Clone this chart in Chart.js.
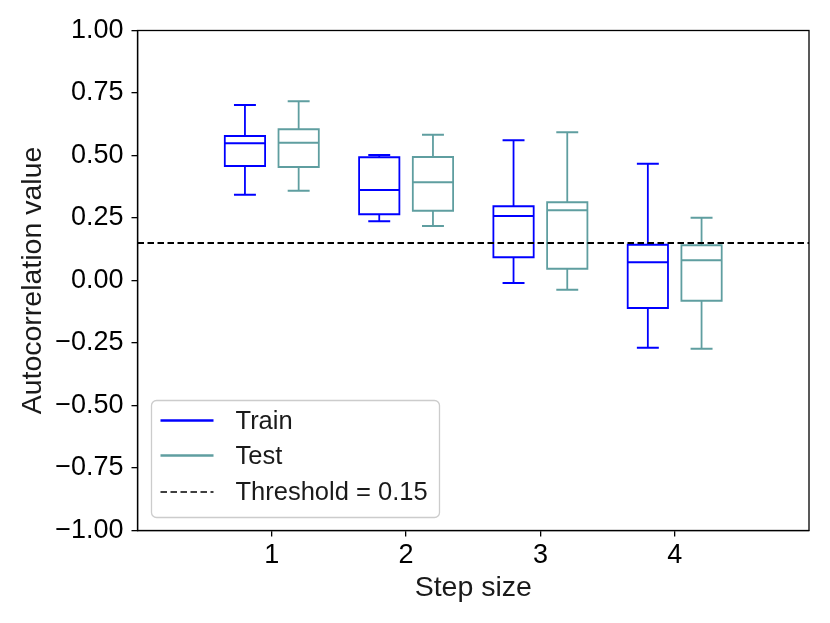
<!DOCTYPE html>
<html><head><meta charset="utf-8">
<script src="https://cdn.jsdelivr.net/npm/chart.js@4.4.0/dist/chart.umd.min.js"></script>
<style>html,body{margin:0;padding:0;background:#fff;} #wrap{width:830px;height:623px;position:relative;}</style>
</head><body><div id="wrap"><canvas id="c"></canvas></div>
<script>
// ---- data ----
const steps = [1, 2, 3, 4];
const trainMin = [0.343, 0.237, -0.010, -0.269];
const trainQ1  = [0.458, 0.265, 0.093, -0.110];
const trainMed = [0.549, 0.362, 0.258, 0.073];
const trainQ3  = [0.578, 0.493, 0.297, 0.143];
const trainMax = [0.702, 0.502, 0.561, 0.467];
const testMin  = [0.359, 0.218, -0.037, -0.273];
const testQ1   = [0.454, 0.279, 0.047, -0.081];
const testMed  = [0.551, 0.393, 0.281, 0.081];
const testQ3   = [0.605, 0.494, 0.313, 0.141];
const testMax  = [0.717, 0.583, 0.593, 0.251];
const threshold = 0.15;
const yTicks = [-1, -0.75, -0.5, -0.25, 0, 0.25, 0.5, 0.75, 1];
const seriesNames = ['Train', 'Test'];

// ---- styling / geometry (not data) ----
const BOX_W = 0.3, CAP_W = 0.15, OFFSET = 0.2;
const TRAIN_COLOR = '#0000ff', TEST_COLOR = '#5f9ea0';
const FONT = 'Liberation Sans, Arial, sans-serif';

function boxPath(mins, q1s, meds, q3s, maxs, off) {
  const pts = [];
  const gap = (x) => pts.push({x: x, y: null});
  steps.forEach((s, i) => {
    const x = s + off, hw = BOX_W / 2, cw = CAP_W / 2;
    pts.push({x: x - hw, y: q1s[i]}, {x: x + hw, y: q1s[i]}, {x: x + hw, y: q3s[i]}, {x: x - hw, y: q3s[i]}, {x: x - hw, y: q1s[i]});
    gap(x);
    pts.push({x: x - hw, y: meds[i]}, {x: x + hw, y: meds[i]}); gap(x);
    pts.push({x: x, y: q3s[i]}, {x: x, y: maxs[i]}); gap(x);
    pts.push({x: x - cw, y: maxs[i]}, {x: x + cw, y: maxs[i]}); gap(x);
    pts.push({x: x, y: q1s[i]}, {x: x, y: mins[i]}); gap(x);
    pts.push({x: x - cw, y: mins[i]}, {x: x + cw, y: mins[i]}); gap(x);
  });
  return pts;
}

const fmt = (v) => { const s = Math.abs(v).toFixed(2); return v < -1e-9 ? '\u2212' + s : s; };

const framePlugin = {
  id: 'frame',
  afterDatasetsDraw(chart) {
    const {ctx, chartArea: a} = chart;
    ctx.save();
    ctx.strokeStyle = '#000'; ctx.lineWidth = 1.3;
    ctx.strokeRect(a.left, a.top, a.right - a.left, a.bottom - a.top);
    ctx.restore();
  }
};

const legendPlugin = {
  id: 'boxLegend',
  afterDraw(chart) {
    const {ctx, chartArea: a} = chart;
    const ds = chart.data.datasets;
    const left = a.left + 14, bottom = a.bottom - 13, w = 288, h = 117;
    const top = bottom - h;
    ctx.save();
    ctx.fillStyle = 'rgba(255,255,255,0.8)';
    ctx.strokeStyle = '#cccccc'; ctx.lineWidth = 1.3;
    const r = 5;
    ctx.beginPath();
    ctx.moveTo(left + r, top);
    ctx.arcTo(left + w, top, left + w, top + h, r);
    ctx.arcTo(left + w, top + h, left, top + h, r);
    ctx.arcTo(left, top + h, left, top, r);
    ctx.arcTo(left, top, left + w, top, r);
    ctx.closePath(); ctx.fill(); ctx.stroke();
    const rows = [20, 55, 91.5];
    ds.forEach((d, i) => {
      const y = top + rows[i];
      ctx.beginPath();
      ctx.strokeStyle = d.borderColor; ctx.lineWidth = d.legendWidth;
      ctx.setLineDash(d.borderDash || []);
      ctx.moveTo(left + 9, y); ctx.lineTo(left + 62, y); ctx.stroke();
      ctx.setLineDash([]);
      ctx.fillStyle = '#1a1a1a'; ctx.font = '25.5px ' + FONT;
      ctx.textBaseline = 'middle'; ctx.textAlign = 'left';
      ctx.fillText(d.label, left + 84, y + 1);
    });
    ctx.restore();
  }
};

const common = {showLine: true, pointRadius: 0, pointHoverRadius: 0, borderWidth: 1.8, borderCapStyle: 'square', borderJoinStyle: 'miter', spanGaps: false, fill: false, tension: 0};

new Chart(document.getElementById('c'), {
  type: 'scatter',
  data: {
    datasets: [
      Object.assign({}, common, {label: seriesNames[0], data: boxPath(trainMin, trainQ1, trainMed, trainQ3, trainMax, -OFFSET), borderColor: TRAIN_COLOR, order: 2, legendWidth: 2.5}),
      Object.assign({}, common, {label: seriesNames[1], data: boxPath(testMin, testQ1, testMed, testQ3, testMax, OFFSET), borderColor: TEST_COLOR, order: 1, legendWidth: 2.5}),
      Object.assign({}, common, {label: 'Threshold = ' + threshold, data: [{x: 0, y: threshold}, {x: 5, y: threshold}], borderColor: '#000', borderDash: [6.5, 3.5], borderCapStyle: 'butt', borderWidth: 1.8, order: 0, legendWidth: 1.5})
    ]
  },
  options: {
    responsive: true, maintainAspectRatio: false, animation: false,
    layout: {padding: {left: 0, top: 30.5, right: 21, bottom: 0}},
    plugins: {legend: {display: false}, tooltip: {enabled: false}},
    scales: {
      x: {
        type: 'linear', min: 0, max: 5,
        afterBuildTicks: (s) => { s.ticks = steps.map(v => ({value: v})); },
        afterFit: (s) => { s.height = 92.5; },
        ticks: {color: '#000', font: {family: FONT, size: 27}, padding: 3, callback: (v) => String(v), maxRotation: 0},
        grid: {drawOnChartArea: false, drawTicks: true, tickLength: 6, color: '#000', lineWidth: 1.3},
        border: {display: true, color: '#000', width: 1.3},
        title: {display: true, text: 'Step size', color: '#1a1a1a', font: {family: FONT, size: 28.5}, padding: {top: 0, bottom: 18}}
      },
      y: {
        type: 'linear', min: -1, max: 1,
        afterBuildTicks: (s) => { s.ticks = yTicks.map(v => ({value: v})); },
        afterFit: (s) => { s.width = 137.5; },
        ticks: {color: '#000', font: {family: FONT, size: 27}, padding: 8, callback: (v) => fmt(v)},
        grid: {drawOnChartArea: false, drawTicks: true, tickLength: 6, color: '#000', lineWidth: 1.3},
        border: {display: true, color: '#000', width: 1.3},
        title: {display: true, text: 'Autocorrelation value', color: '#1a1a1a', font: {family: FONT, size: 28.5}, padding: {top: 16, bottom: 0}}
      }
    }
  },
  plugins: [framePlugin, legendPlugin]
});
</script></body></html>
